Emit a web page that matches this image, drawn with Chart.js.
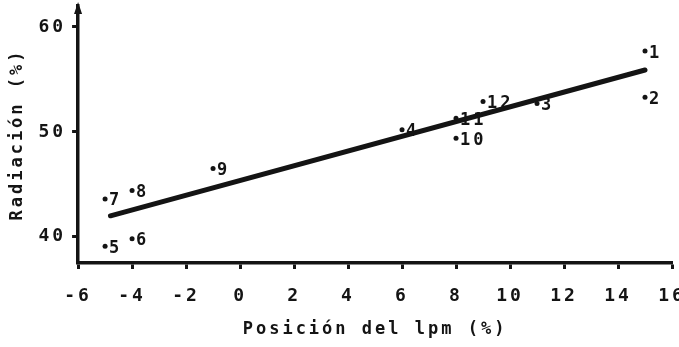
<!DOCTYPE html>
<html>
<head>
<meta charset="utf-8">
<script src="https://cdn.jsdelivr.net/npm/chart.js@4"></script>
<style>
  html, body { margin: 0; padding: 0; background: #fff; overflow: hidden; }
</style>
</head>
<body>
<canvas id="radChart" width="679" height="347"></canvas>
<script>
// measured points (numbered as in the original figure)
const pointNames = ['1', '2', '3', '4', '5', '6', '7', '8', '9', '10', '11', '12'];
const posicion = [15, 15, 11, 6, -5, -4, -5, -4, -1, 8, 8, 9];
const radiacion = [57.7, 53.3, 52.7, 50.2, 39.1, 39.8, 43.6, 44.4, 46.5, 49.4, 51.3, 52.9];

// fitted regression line
const fitX = [-4.8, 15];
const fitY = [42.0, 55.9];

// axis ticks
const xTicks = [-6, -4, -2, 0, 2, 4, 6, 8, 10, 12, 14, 16];
const yTicks = [40, 50, 60];

const ink = '#141414';
const monoFont = "'DejaVu Sans Mono', 'Liberation Mono', monospace";

// typewriter look: a bit of extra space between letters
const spacingPlugin = {
  id: 'spacing',
  beforeLayout(chart) { chart.ctx.letterSpacing = '3px'; },
  beforeDraw(chart) { chart.ctx.letterSpacing = '3px'; }
};

// numbers written next to each point, plus the arrow on top of the y axis
const labelsPlugin = {
  id: 'pointNumbers',
  afterDatasetsDraw(chart) {
    const ctx = chart.ctx;
    const meta = chart.getDatasetMeta(0);
    ctx.save();
    ctx.fillStyle = ink;
    ctx.font = "bold 17px " + monoFont;
    ctx.textAlign = 'left';
    ctx.textBaseline = 'middle';
    meta.data.forEach((pt, i) => {
      ctx.fillText(pointNames[i], pt.x + 4, pt.y + 2);
    });

    const area = chart.chartArea;
    ctx.beginPath();
    ctx.moveTo(area.left, area.top - 4);
    ctx.lineTo(area.left - 4, area.top + 8);
    ctx.lineTo(area.left + 4, area.top + 8);
    ctx.closePath();
    ctx.fill();
    ctx.restore();
  }
};

const ctx = document.getElementById('radChart').getContext('2d');
new Chart(ctx, {
  type: 'scatter',
  data: {
    datasets: [
      {
        label: 'Medidas',
        data: posicion.map((x, i) => ({ x: x, y: radiacion[i] })),
        pointRadius: 2.5,
        pointBackgroundColor: ink,
        pointBorderWidth: 0
      },
      {
        label: 'Ajuste',
        data: fitX.map((x, i) => ({ x: x, y: fitY[i] })),
        showLine: true,
        borderColor: ink,
        borderWidth: 5,
        borderCapStyle: 'round',
        pointRadius: 0
      }
    ]
  },
  options: {
    responsive: false,
    animation: false,
    layout: { padding: { top: 6, right: 0, left: 7, bottom: 7 } },
    plugins: {
      legend: { display: false },
      tooltip: { enabled: false }
    },
    scales: {
      x: {
        type: 'linear',
        min: -6,
        max: 16,
        afterBuildTicks: (axis) => { axis.ticks = xTicks.map(v => ({ value: v })); },
        afterFit: (axis) => { axis.height = 77; axis.paddingRight = 7; },
        border: { display: true, color: ink, width: 3.5 },
        grid: { drawOnChartArea: false, drawTicks: true, tickLength: 6, tickWidth: 3, tickColor: ink },
        ticks: {
          color: ink,
          padding: 17,
          maxRotation: 0,
          font: { family: monoFont, size: 18, weight: 'bold' }
        },
        title: {
          display: true,
          text: 'Posición del lpm (%)',
          color: ink,
          padding: { top: 10, bottom: 0 },
          font: { family: monoFont, size: 17, weight: 'bold' }
        }
      },
      y: {
        type: 'linear',
        min: 37.5,
        max: 62,
        afterBuildTicks: (axis) => { axis.ticks = yTicks.map(v => ({ value: v })); },
        afterFit: (axis) => { axis.paddingTop = 0; axis.paddingBottom = 0; },
        border: { display: true, color: ink, width: 3.5 },
        grid: { drawOnChartArea: false, drawTicks: true, tickLength: 6, tickWidth: 3, tickColor: ink },
        ticks: {
          color: ink,
          padding: 6,
          font: { family: monoFont, size: 18, weight: 'bold' }
        },
        title: {
          display: true,
          text: 'Radiación (%)',
          color: ink,
          padding: { top: 0, bottom: 5 },
          font: { family: monoFont, size: 17, weight: 'bold' }
        }
      }
    }
  },
  plugins: [spacingPlugin, labelsPlugin]
});
</script>
</body>
</html>
